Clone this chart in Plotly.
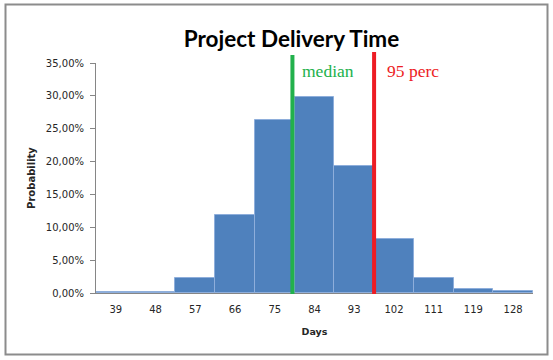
import numpy as np
import plotly.graph_objects as go

# ---- data ----
days = ["39", "48", "57", "66", "75", "84", "93", "102", "111", "119", "128"]
probability = [0.002, 0.002, 0.023, 0.119, 0.263, 0.298, 0.193, 0.082, 0.023, 0.006, 0.003]
median_days = 79
perc95_days = 97.5
y_ticks = [0, 0.05, 0.10, 0.15, 0.20, 0.25, 0.30, 0.35]

idx = list(range(len(days)))
day_vals = [float(d) for d in days]
median_x = float(np.interp(median_days, day_vals, idx))
perc95_x = float(np.interp(perc95_days, day_vals, idx))

W, H = 553, 360
L, R, T, B = 96, 20, 63, 67
pw, ph = W - L - R, H - T - B

fig = go.Figure()
fig.add_trace(go.Bar(
    x=idx, y=probability, width=1.0,
    marker=dict(color="#4F81BD", line=dict(color="#8EAEDB", width=1)),
    hoverinfo="skip", showlegend=False,
))

fig.add_shape(type="line", xref="x", yref="paper", x0=median_x, x1=median_x,
              y0=-0.004, y1=(ph + 8) / ph,
              line=dict(color="#22B14C", width=4))
fig.add_shape(type="line", xref="x", yref="paper", x0=perc95_x, x1=perc95_x,
              y0=-0.004, y1=(ph + 11) / ph,
              line=dict(color="#ED1C24", width=4))

fig.add_annotation(text="median", xref="x", yref="y", x=median_x, y=0.338, xanchor="left",
                   xshift=8, showarrow=False,
                   font=dict(family="Liberation Serif", size=17.5, color="#22B14C"))
fig.add_annotation(text="95 perc", xref="x", yref="y", x=perc95_x, y=0.338, xanchor="left",
                   xshift=11, showarrow=False,
                   font=dict(family="Liberation Serif", size=17.5, color="#ED1C24"))

# outer border
fig.add_shape(type="rect", xref="paper", yref="paper",
              x0=(5.5 - L) / pw, x1=(547.5 - L) / pw,
              y0=(T + ph - 354.5) / ph, y1=(T + ph - 4.5) / ph,
              line=dict(color="#8C8C8C", width=2), layer="below")

fig.update_layout(
    width=W, height=H,
    margin=dict(l=L, r=R, t=T, b=B),
    paper_bgcolor="white", plot_bgcolor="white",
    separators=",.",
    bargap=0,
    font=dict(family="DejaVu Sans", size=10, color="#262626"),
    title=dict(text="<b>Project Delivery Time</b>", x=291.5 / W, xanchor="center",
               y=1 - 39 / H, yanchor="middle", xref="container", yref="container",
               font=dict(family="Lato", size=22.5, color="black")),
    xaxis=dict(range=[-0.5, 10.5], tickmode="array", tickvals=idx, ticktext=days,
               showline=True, linecolor="#868686", linewidth=1, ticks="",
               ticklabelstandoff=7,
               showgrid=False, zeroline=False, fixedrange=True,
               title=dict(text="<b>Days</b>", font=dict(size=9.5), standoff=14)),
    yaxis=dict(range=[0, 0.35], tickmode="array", tickvals=y_ticks, tickformat=".2%",
               showline=True, linecolor="#868686", linewidth=1, ticks="outside",
               ticklen=5, tickcolor="#868686", ticklabelstandoff=4,
               showgrid=False, zeroline=False, fixedrange=True,
               title=dict(text="<b>Probability</b>", font=dict(size=10), standoff=8)),
)

fig.write_html("out.html", config={"displayModeBar": False},
               post_script="document.body.style.margin='0';")
